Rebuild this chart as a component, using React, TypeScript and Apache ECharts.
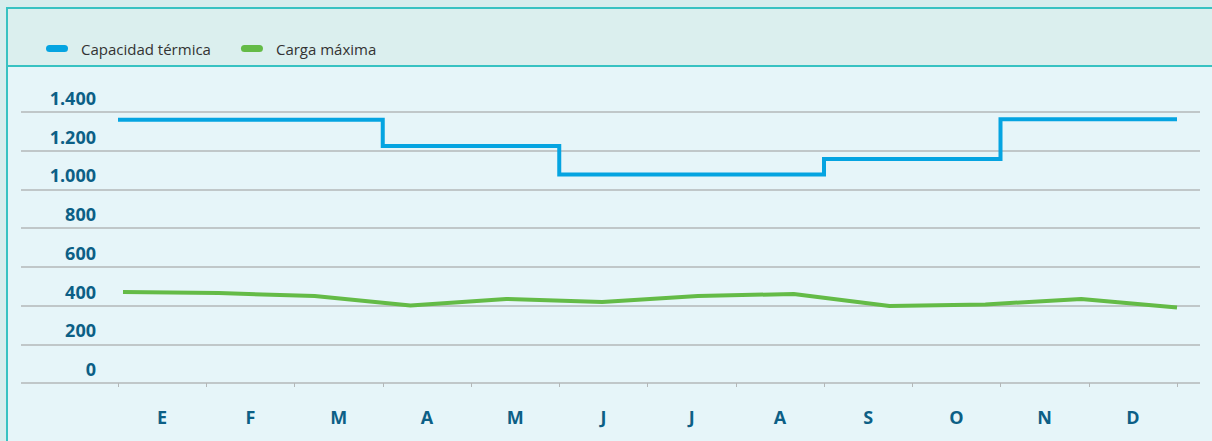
import React, { useEffect, useRef } from 'react';
import * as echarts from 'echarts';

const months = ['E', 'F', 'M', 'A', 'M', 'J', 'J', 'A', 'S', 'O', 'N', 'D'];
const capacidadTermica = [1360, 1360, 1360, 1225, 1225, 1077, 1077, 1077, 1157, 1157, 1362, 1362];
const cargaMaxima = [470, 465, 449, 400, 434, 418, 449, 460, 398, 406, 434, 390];
const yTickValues = [0, 200, 400, 600, 800, 1000, 1200, 1400];
const yTickLabels = ['0', '200', '400', '600', '800', '1.000', '1.200', '1.400'];

const FONT = '"Open Sans", "Noto Sans", sans-serif';
const LABEL_COLOR = '#0c5f86';
const BLUE = '#05a4e1';
const GREEN = '#64bb47';
const GRID_COLOR = '#b3b7b8';

export default function App() {
  const ref = useRef<HTMLDivElement>(null);

  useEffect(() => {
    if (!ref.current) return;
    const chart = echarts.init(ref.current, null, { renderer: 'svg' });

    const stepData: number[][] = [];
    capacidadTermica.forEach((v, i) => {
      stepData.push([i, v], [i + 1, v]);
    });

    const top = 112;
    const bottom = 441 - 383;

    const option: any = {
      animation: false,
      backgroundColor: 'transparent',
      textStyle: { fontFamily: FONT },
      legend: {
        left: 41,
        top: 36,
        itemWidth: 22,
        itemHeight: 7,
        itemGap: 30,
        icon: 'path://M3.5,0 H18.5 A3.5,3.5 0 0 1 18.5,7 H3.5 A3.5,3.5 0 0 1 3.5,0 Z',
        textStyle: {
          fontFamily: FONT,
          fontSize: 15,
          color: '#333333',
          padding: [0, 0, 0, 8],
        },
        data: [
          { name: 'Capacidad térmica', itemStyle: { color: BLUE } },
          { name: 'Carga máxima', itemStyle: { color: GREEN } },
        ],
      },
      grid: [
        { left: 118, right: 35, top, bottom },
        { left: 123, right: 35, top, bottom },
        { left: 21, right: 12, top, bottom },
      ],
      xAxis: [
        {
          type: 'category',
          gridIndex: 0,
          data: months,
          boundaryGap: true,
          axisLine: { show: false },
          axisTick: { show: true, length: 4, lineStyle: { color: GRID_COLOR, width: 1 } },
          axisLabel: {
            margin: 25,
            fontFamily: FONT,
            fontSize: 18,
            fontWeight: 'bold',
            color: LABEL_COLOR,
          },
          splitLine: { show: false },
        },
        {
          type: 'value',
          gridIndex: 0,
          min: 0,
          max: 12,
          show: false,
        },
        {
          type: 'category',
          gridIndex: 1,
          data: months,
          boundaryGap: false,
          show: false,
        },
        {
          type: 'value',
          gridIndex: 2,
          min: 0,
          max: 1,
          show: false,
        },
      ],
      yAxis: [
        { type: 'value', gridIndex: 0, min: 0, max: 1400, interval: 200, show: false },
        { type: 'value', gridIndex: 1, min: 0, max: 1400, interval: 200, show: false },
        {
          type: 'value',
          gridIndex: 2,
          min: 0,
          max: 1400,
          interval: 200,
          axisLine: { show: false },
          axisTick: { show: false },
          splitLine: { show: true, lineStyle: { color: GRID_COLOR, width: 1.5 } },
          axisLabel: {
            inside: true,
            margin: 75,
            align: 'right',
            verticalAlign: 'bottom',
            lineHeight: 28,
            fontFamily: FONT,
            fontSize: 18,
            fontWeight: 'bold',
            color: LABEL_COLOR,
            formatter: (v: number) => {
              const idx = yTickValues.indexOf(v);
              return idx >= 0 ? yTickLabels[idx] : '';
            },
          },
        },
      ],
      series: [
        {
          name: 'Capacidad térmica',
          type: 'line',
          xAxisIndex: 1,
          yAxisIndex: 0,
          data: stepData,
          showSymbol: false,
          symbol: 'none',
          lineStyle: { color: BLUE, width: 4, cap: 'butt', join: 'miter' },
          itemStyle: { color: BLUE },
          z: 3,
        },
        {
          name: 'Carga máxima',
          type: 'line',
          xAxisIndex: 2,
          yAxisIndex: 1,
          data: cargaMaxima,
          showSymbol: false,
          symbol: 'none',
          lineStyle: { color: GREEN, width: 4, cap: 'butt' },
          itemStyle: { color: GREEN },
          z: 3,
        },
      ],
    };

    chart.setOption(option);
    return () => chart.dispose();
  }, []);

  const abs = (s: React.CSSProperties): React.CSSProperties => ({ position: 'absolute', ...s });

  return (
    <div style={{ position: 'fixed', left: 0, top: 0, width: 1212, height: 441, background: '#d7eded', overflow: 'hidden' }}>
      <div style={abs({ left: 8, top: 9, width: 1204, height: 56, background: '#dbefee' })} />
      <div style={abs({ left: 8, top: 67, width: 1204, height: 374, background: '#e6f5f9' })} />
      <div style={abs({ left: 6, top: 7, width: 2, height: 434, background: '#38c2c2' })} />
      <div style={abs({ left: 6, top: 7, width: 1206, height: 2, background: '#38c2c2' })} />
      <div style={abs({ left: 6, top: 65, width: 1206, height: 2, background: '#38c2c2' })} />
      <div ref={ref} style={abs({ left: 0, top: 0, width: 1212, height: 441 })} />
    </div>
  );
}
